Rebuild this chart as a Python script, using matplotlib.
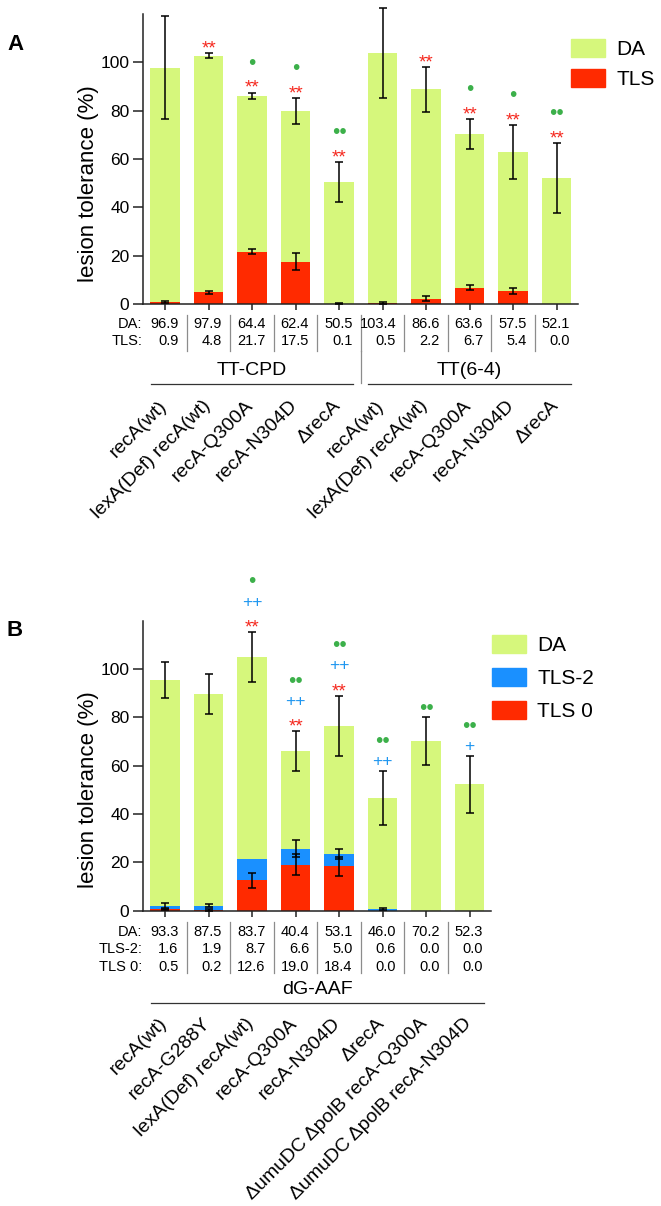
import matplotlib
matplotlib.use('Agg')
import matplotlib.pyplot as plt
from matplotlib.patches import Patch
import numpy as np

plt.rcParams['font.family'] = ['Liberation Sans', 'DejaVu Sans']

# ---- panel A data ----
a_groups = ['TT-CPD', 'TT(6-4)']
a_strains = ['recA(wt)', 'lexA(Def) recA(wt)', 'recA-Q300A', 'recA-N304D', '\u0394recA']
a_da = [96.9, 97.9, 64.4, 62.4, 50.5, 103.4, 86.6, 63.6, 57.5, 52.1]
a_tls = [0.9, 4.8, 21.7, 17.5, 0.1, 0.5, 2.2, 6.7, 5.4, 0.0]
a_total_err = [21.3, 1.0, 1.4, 5.3, 8.2, 18.7, 9.2, 6.3, 11.1, 14.6]
a_tls_err = [0.5, 0.7, 1.0, 3.4, 0.2, 0.3, 1.0, 1.1, 1.3, 0.0]
a_stars = ['', '**', '**', '**', '**', '', '**', '**', '**', '**']
a_dots = ['', '', '\u2022', '\u2022', '\u2022\u2022', '', '', '\u2022', '\u2022', '\u2022\u2022']

# ---- panel B data ----
b_group = 'dG-AAF'
b_strains = ['recA(wt)', 'recA-G288Y', 'lexA(Def) recA(wt)', 'recA-Q300A', 'recA-N304D',
             '\u0394recA', '\u0394umuDC \u0394polB recA-Q300A', '\u0394umuDC \u0394polB recA-N304D']
b_da = [93.3, 87.5, 83.7, 40.4, 53.1, 46.0, 70.2, 52.3]
b_tls2 = [1.6, 1.9, 8.7, 6.6, 5.0, 0.6, 0.0, 0.0]
b_tls0 = [0.5, 0.2, 12.6, 19.0, 18.4, 0.0, 0.0, 0.0]
b_total_err = [7.5, 8.2, 10.3, 8.2, 12.5, 11.3, 10.0, 11.9]
b_tls2_err = [1.0, 0.6, 0.0, 3.5, 2.1, 0.5, 0.0, 0.0]
b_tls0_err = [0.3, 0.3, 3.1, 4.4, 3.9, 0.0, 0.0, 0.0]
b_stars = ['', '', '**', '**', '**', '', '', '']
b_plus = ['', '', '++', '++', '++', '++', '', '+']
b_dots = ['', '', '\u2022', '\u2022\u2022', '\u2022\u2022', '\u2022\u2022', '\u2022\u2022', '\u2022\u2022']

GREEN = '#d6f77c'
RED = '#ff2a00'
BLUE = '#1a90ff'
ANN_RED = '#f5281e'
ANN_BLUE = '#1e96f0'
ANN_GREEN = '#3cb04a'

W, H = 661, 1206
AX_H = 290.0  # axes height in px
STEP = 43.5   # bar pitch in px


def below(px):
    return -px / AX_H


def style_axes(ax, n):
    ax.set_xlim(-0.5, n - 0.5)
    ax.set_ylim(0, 120)
    ax.set_yticks([0, 20, 40, 60, 80, 100])
    ax.set_xticks(np.arange(n))
    ax.set_xticklabels([])
    for s in ['top', 'right']:
        ax.spines[s].set_visible(False)
    for s in ['left', 'bottom']:
        ax.spines[s].set_linewidth(1.1)
        ax.spines[s].set_color('#222222')
    ax.tick_params(axis='y', length=7, width=1.1, labelsize=12.5, pad=3, color='#222222')
    ax.tick_params(axis='x', length=4.5, width=1.1, color='#222222')
    ax.set_ylabel('lesion tolerance (%)', fontsize=16)
    ax.yaxis.set_label_coords((99 - 143.3) / (n * STEP), 50 / 120)


def errbars(ax, x, y, err):
    x = np.asarray(x); y = np.asarray(y); err = np.asarray(err)
    m = err > 0
    ax.errorbar(x[m], y[m], yerr=err[m], fmt='none', ecolor='black',
                elinewidth=1.1, capsize=3, capthick=1.1, clip_on=False, zorder=5)


def annotate_stack(ax, x, top, texts_colors):
    # texts_colors: list of (text, color, fontsize, ink-center) from bottom to top
    off = 10.5
    for txt, col, fs, ink in texts_colors:
        if txt:
            shift = ink * fs * 100 / 72
            ax.annotate(txt, xy=(x, top), xytext=(0, off - shift), textcoords='offset pixels',
                        ha='center', va='baseline', color=col, fontsize=fs,
                        annotation_clip=False)
            off += 21


def table(ax, row_labels, rows, row_y):
    for lab, vals, y in zip(row_labels, rows, row_y):
        ax.annotate(lab, xy=(-0.5, 0), xycoords=('data', 'axes fraction'),
                    xytext=(-1, -y), textcoords='offset pixels',
                    ha='right', va='center', fontsize=10.5)
        for i, v in enumerate(vals):
            ax.annotate('%.1f' % v, xy=(i, 0), xycoords=('data', 'axes fraction'),
                        xytext=(13.5, -y), textcoords='offset pixels',
                        ha='right', va='center', fontsize=10.5)


def separators(ax, n, y0, y1):
    for i in range(n - 1):
        ax.plot([i + 0.5, i + 0.5], [below(y0), below(y1)], transform=ax.get_xaxis_transform(),
                clip_on=False, color='#8c8c8c', lw=0.9)


def group(ax, label, i0, i1, y_text, y_line):
    ax.text((i0 + i1) / 2, below(y_text), label, transform=ax.get_xaxis_transform(),
            ha='center', va='center', fontsize=14)
    ax.plot([i0 - 0.33, i1 + 0.33], [below(y_line)] * 2, transform=ax.get_xaxis_transform(),
            clip_on=False, color='#333333', lw=0.9)


def strain_labels(ax, labels, y_top):
    for i, lab in enumerate(labels):
        ax.text(i + 5 / STEP, below(y_top), lab, transform=ax.get_xaxis_transform(),
                rotation=45, ha='right', va='top', fontsize=14)


fig = plt.figure(figsize=(W / 100, H / 100), dpi=100)

# ---------------- panel A ----------------
nA = len(a_da)
axA = fig.add_axes([143.3 / W, 1 - 304 / H, nA * STEP / W, AX_H / H])
xA = np.arange(nA)
a_tot = np.array(a_da) + np.array(a_tls)
axA.bar(xA, a_tls, width=0.67, color=RED, label='TLS', zorder=2)
axA.bar(xA, a_da, width=0.67, bottom=a_tls, color=GREEN, label='DA', zorder=2)
errbars(axA, xA, a_tot, a_total_err)
errbars(axA, xA, a_tls, a_tls_err)
style_axes(axA, nA)
for i in range(nA):
    annotate_stack(axA, i, a_tot[i] + a_total_err[i],
                   [(a_stars[i], ANN_RED, 13.5, 0.58), (a_dots[i], ANN_GREEN, 15, 0.37)])
table(axA, ['DA:', 'TLS:'], [a_da, a_tls], [20.3, 37.0])
separators(axA, nA, 11, 47)
axA.plot([4.5, 4.5], [below(47), below(79)], transform=axA.get_xaxis_transform(),
         clip_on=False, color='#8c8c8c', lw=0.9)
group(axA, a_groups[0], 0, 4, 66.7, 80.3)
group(axA, a_groups[1], 5, 9, 66.7, 80.3)
strain_labels(axA, a_strains + a_strains, 93)
handles = [Patch(color=GREEN), Patch(color=RED)]
axA.legend(handles, ['DA', 'TLS'], loc='upper left', bbox_to_anchor=(570.7 / W, 1 - 38.5 / H),
           bbox_transform=fig.transFigure, frameon=False, fontsize=15, borderpad=0,
           borderaxespad=0, handlelength=1.63, handleheight=0.96, handletextpad=0.56,
           labelspacing=0.48)
fig.text(7 / W, 1 - 45 / H, 'A', fontsize=16, fontweight='bold', va='center', ha='left')

# ---------------- panel B ----------------
nB = len(b_da)
axB = fig.add_axes([143.3 / W, 1 - 910.7 / H, nB * STEP / W, AX_H / H])
xB = np.arange(nB)
b_l2 = np.array(b_tls0) + np.array(b_tls2)
b_tot = b_l2 + np.array(b_da)
axB.bar(xB, b_tls0, width=0.67, color=RED, zorder=2)
axB.bar(xB, b_tls2, width=0.67, bottom=b_tls0, color=BLUE, zorder=2)
axB.bar(xB, b_da, width=0.67, bottom=b_l2, color=GREEN, zorder=2)
errbars(axB, xB, b_tot, b_total_err)
errbars(axB, xB, b_l2, b_tls2_err)
errbars(axB, xB, b_tls0, b_tls0_err)
style_axes(axB, nB)
for i in range(nB):
    annotate_stack(axB, i, b_tot[i] + b_total_err[i],
                   [(b_stars[i], ANN_RED, 13.5, 0.58), (b_plus[i], ANN_BLUE, 12.5, 0.35),
                    (b_dots[i], ANN_GREEN, 15, 0.37)])
table(axB, ['DA:', 'TLS-2:', 'TLS 0:'], [b_da, b_tls2, b_tls0], [21.0, 38.7, 56.0])
separators(axB, nB, 11, 62)
group(axB, b_group, 0, nB - 1, 79.3, 92.6)
strain_labels(axB, b_strains, 104)
handles = [Patch(color=GREEN), Patch(color=BLUE), Patch(color=RED)]
axB.legend(handles, ['DA', 'TLS-2', 'TLS 0'], loc='upper left',
           bbox_to_anchor=(491.7 / W, 1 - 634.5 / H), bbox_transform=fig.transFigure,
           frameon=False, fontsize=15, borderpad=0, borderaxespad=0, handlelength=1.63,
           handleheight=0.96, handletextpad=0.56, labelspacing=0.62)
fig.text(7 / W, 1 - 630 / H, 'B', fontsize=16, fontweight='bold', va='center', ha='left')

fig.savefig('out.png', dpi=100)
